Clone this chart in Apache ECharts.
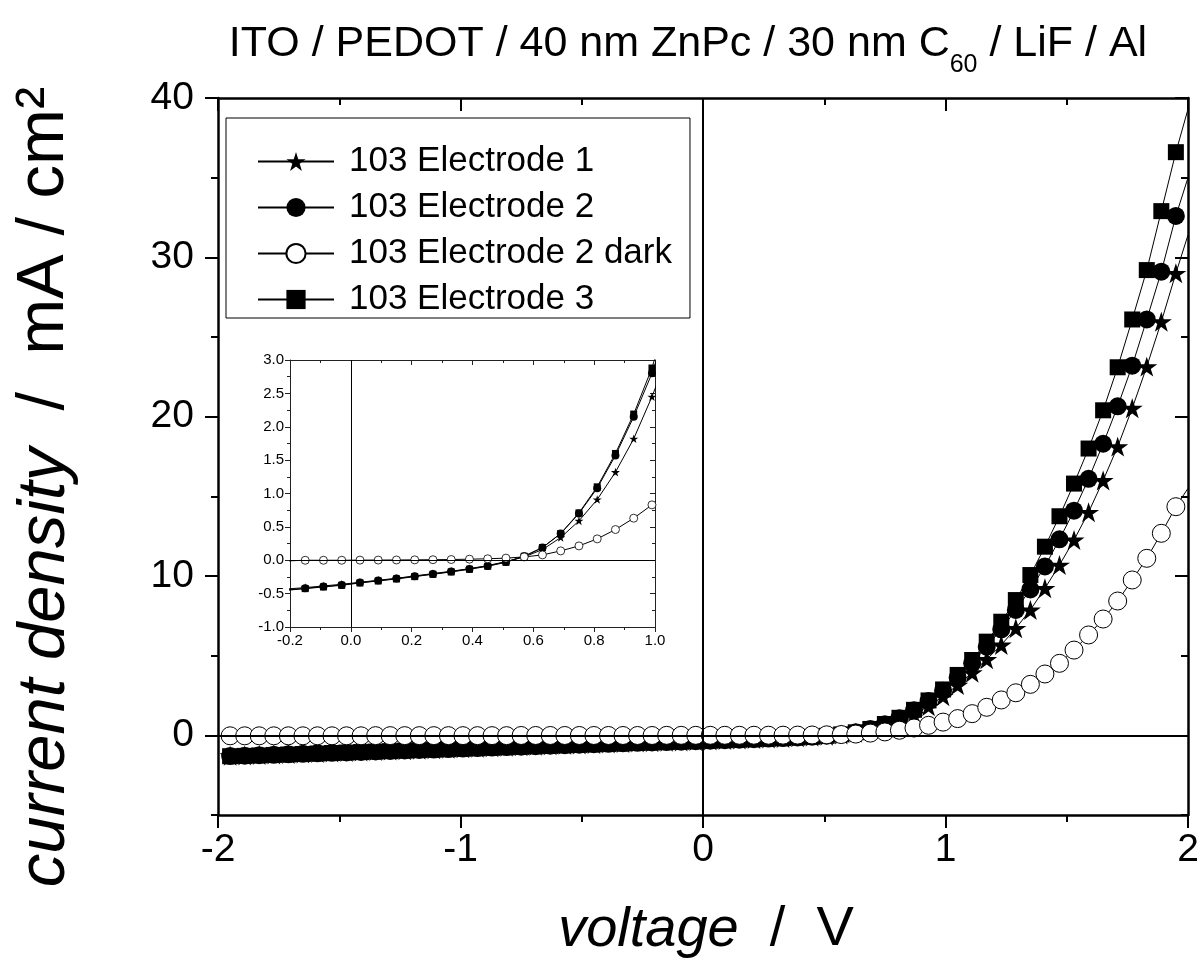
<!DOCTYPE html>
<html>
<head>
<meta charset="utf-8">
<script src="https://cdn.jsdelivr.net/npm/echarts@6/dist/echarts.min.js"></script>
<style>
html,body{margin:0;padding:0;background:#fff;}
#c{width:1203px;height:963px;}
</style>
</head>
<body>
<div id="c"></div>
<script>
// ---------------- data ----------------
const voltage = [-1.95, -1.89, -1.83, -1.77, -1.71, -1.65, -1.59, -1.53, -1.47, -1.41,
  -1.35, -1.29, -1.23, -1.17, -1.11, -1.05, -0.99, -0.93, -0.87, -0.81,
  -0.75, -0.69, -0.63, -0.57, -0.51, -0.45, -0.39, -0.33, -0.27, -0.21,
  -0.15, -0.09, -0.03, 0.03, 0.09, 0.15, 0.21, 0.27, 0.33, 0.39,
  0.45, 0.51, 0.57, 0.63, 0.69, 0.75, 0.81, 0.87, 0.93, 0.99,
  1.05, 1.11, 1.17, 1.23, 1.29, 1.35, 1.41, 1.47, 1.53, 1.59,
  1.65, 1.71, 1.77, 1.83, 1.89, 1.95];

const electrode1 = [-1.28, -1.26, -1.23, -1.20, -1.17, -1.14, -1.11, -1.08, -1.05, -1.02,
  -0.99, -0.96, -0.93, -0.90, -0.87, -0.84, -0.81, -0.78, -0.75, -0.72,
  -0.69, -0.66, -0.63, -0.60, -0.57, -0.54, -0.51, -0.48, -0.455, -0.43,
  -0.41, -0.385, -0.36, -0.33, -0.30, -0.27, -0.235, -0.20, -0.165, -0.125,
  -0.08, -0.02, 0.05, 0.16, 0.34, 0.59, 0.91, 1.32, 1.82, 2.45,
  3.15, 3.93, 4.77, 5.67, 6.72, 7.87, 9.23, 10.69, 12.26, 14.0,
  16.0, 18.12, 20.53, 23.14, 25.96, 29.0];

const electrode2 = [-1.30, -1.28, -1.25, -1.22, -1.19, -1.16, -1.13, -1.10, -1.07, -1.04,
  -1.01, -0.98, -0.95, -0.92, -0.89, -0.86, -0.83, -0.80, -0.77, -0.74,
  -0.71, -0.68, -0.65, -0.62, -0.59, -0.56, -0.53, -0.50, -0.47, -0.445,
  -0.42, -0.395, -0.37, -0.335, -0.305, -0.275, -0.24, -0.205, -0.17, -0.13,
  -0.085, -0.025, 0.06, 0.19, 0.40, 0.70, 1.08, 1.57, 2.15, 2.80,
  3.62, 4.52, 5.56, 6.65, 7.87, 9.16, 10.6, 12.3, 14.1, 16.1,
  18.3, 20.65, 23.2, 26.1, 29.1, 32.6];

const electrode2Dark = [-0.03, -0.03, -0.03, -0.03, -0.03, -0.03, -0.03, -0.03, -0.03, -0.03,
  -0.02, -0.02, -0.02, -0.02, -0.02, -0.02, -0.02, -0.02, -0.02, -0.02,
  -0.01, -0.01, -0.01, -0.01, -0.01, -0.01, -0.01, -0.01, -0.01, -0.01,
  0.0, 0.0, 0.0, 0.002, 0.003, 0.004, 0.006, 0.008, 0.011, 0.016,
  0.022, 0.032, 0.05, 0.08, 0.14, 0.215, 0.32, 0.46, 0.63, 0.83,
  1.05, 1.36, 1.76, 2.22, 2.67, 3.20, 3.85, 4.52, 5.35, 6.30,
  7.30, 8.43, 9.75, 11.11, 12.68, 14.35];

const electrode3 = [-1.31, -1.29, -1.26, -1.23, -1.20, -1.17, -1.14, -1.11, -1.08, -1.05,
  -1.02, -0.99, -0.96, -0.93, -0.90, -0.87, -0.84, -0.81, -0.78, -0.75,
  -0.72, -0.69, -0.66, -0.63, -0.60, -0.57, -0.54, -0.51, -0.48, -0.45,
  -0.425, -0.40, -0.375, -0.34, -0.31, -0.28, -0.245, -0.21, -0.175, -0.135,
  -0.09, -0.03, 0.06, 0.19, 0.40, 0.71, 1.10, 1.60, 2.19, 2.88,
  3.79, 4.73, 5.88, 7.13, 8.49, 10.06, 11.84, 13.75, 15.8, 18.0,
  20.4, 23.1, 26.1, 29.2, 32.9, 36.6];

// line end at the right frame (no marker there)
const endVoltage = 2.0;
const endValues = { e1: 31.4, e2: 35.0, e2d: 15.5, e3: 39.3 };

const seriesNames = ['103 Electrode 1', '103 Electrode 2', '103 Electrode 2 dark', '103 Electrode 3'];

// tick values
const xTicks = [-2, -1, 0, 1, 2];
const xMinor = [-1.5, -0.5, 0.5, 1.5];
const yTicks = [0, 10, 20, 30, 40];
const yMinor = [-5, 5, 15, 25, 35];
const insetXTicks = [-0.2, 0.0, 0.2, 0.4, 0.6, 0.8, 1.0];
const insetXMinor = [-0.1, 0.1, 0.3, 0.5, 0.7, 0.9];
const insetYTicks = [-1.0, -0.5, 0.0, 0.5, 1.0, 1.5, 2.0, 2.5, 3.0];
const insetYMinor = [-0.75, -0.25, 0.25, 0.75, 1.25, 1.75, 2.25, 2.75];

// ---------------- chart ----------------
const FONT = '"Liberation Sans", Arial, Helvetica, sans-serif';
const STAR = 'path://M50,0L61.2,34.5L97.6,34.5L68.2,55.9L79.4,90.5L50,69.1L20.6,90.5L31.8,55.9L2.4,34.5L38.8,34.5Z';

function pairs(ys, endY) {
  const d = voltage.map((v, i) => [v, ys[i]]);
  d.push({ value: [endVoltage, endY], symbol: 'none' });
  return d;
}

function axes(dim, gridIndex, min, max, majors, minors, o) {
  const isX = dim === 'x';
  const posA = isX ? 'bottom' : 'left';
  const posB = isX ? 'top' : 'right';
  const base = { type: 'value', gridIndex, min, max, splitLine: { show: false }, silent: true };
  const lbl = Object.assign({ show: true, color: '#000', fontFamily: FONT, customValues: majors }, o.label);
  return [
    Object.assign({}, base, { position: posA,
      axisLine: { show: true, onZero: false, lineStyle: { color: o.color, width: o.lw } },
      axisTick: { show: true, inside: false, length: o.maj, customValues: majors, lineStyle: { color: o.color, width: o.tw } },
      axisLabel: lbl }),
    Object.assign({}, base, { position: posA,
      axisLine: { show: false, onZero: false },
      axisTick: { show: true, inside: false, length: o.min, customValues: minors, lineStyle: { color: o.color, width: o.tw } },
      axisLabel: { show: false, customValues: minors } }),
    Object.assign({}, base, { position: posB,
      axisLine: { show: true, onZero: false, lineStyle: { color: o.color, width: o.lw } },
      axisTick: { show: true, inside: true, length: o.maj, customValues: majors, lineStyle: { color: o.color, width: o.tw } },
      axisLabel: { show: false, customValues: majors } }),
    Object.assign({}, base, { position: posB,
      axisLine: { show: false, onZero: false },
      axisTick: { show: true, inside: true, length: o.min, customValues: minors, lineStyle: { color: o.color, width: o.tw } },
      axisLabel: { show: false, customValues: minors } })
  ];
}

const mainAxisStyle = { color: '#000', lw: 2.5, tw: 2, maj: 13, min: 7 };
const insetAxisStyle = { color: '#222', lw: 1, tw: 1, maj: 5, min: 3 };

const xAxes = [].concat(
  axes('x', 0, -2, 2, xTicks, xMinor, Object.assign({ label: { fontSize: 39, margin: 16 } }, mainAxisStyle)),
  axes('x', 1, -0.2, 1.0, insetXTicks, insetXMinor, Object.assign({ label: { fontSize: 15, margin: 6, formatter: v => v.toFixed(1) } }, insetAxisStyle))
);
const yAxes = [].concat(
  axes('y', 0, -5, 40, yTicks, yMinor, Object.assign({ label: { fontSize: 39, margin: 24 } }, mainAxisStyle)),
  axes('y', 1, -1, 3, insetYTicks, insetYMinor, Object.assign({ label: { fontSize: 15, margin: 6, formatter: v => v.toFixed(1) } }, insetAxisStyle))
);

const defs = [
  { key: 'e3', name: seriesNames[3], ys: electrode3, symbol: 'rect', size: 16, inset: 7, fill: '#000' },
  { key: 'e2', name: seriesNames[1], ys: electrode2, symbol: 'circle', size: 18, inset: 8, fill: '#000' },
  { key: 'e1', name: seriesNames[0], ys: electrode1, symbol: STAR, size: 21, inset: 9, fill: '#000' },
  { key: 'e2d', name: seriesNames[2], ys: electrode2Dark, symbol: 'circle', size: 18, inset: 8, fill: '#fff' }
];

const zeroLines = (w) => ({
  silent: true, symbol: 'none', animation: false,
  label: { show: false },
  lineStyle: { color: '#000', width: w, type: 'solid' },
  emphasis: { disabled: true },
  data: [{ xAxis: 0 }, { yAxis: 0 }]
});

const series = [];
defs.forEach((d, i) => {
  series.push({
    type: 'line', name: d.name, xAxisIndex: 0, yAxisIndex: 0,
    data: pairs(d.ys, endValues[d.key]),
    symbol: d.symbol, symbolSize: d.size, symbolKeepAspect: true, showAllSymbol: true,
    lineStyle: { color: '#000', width: 1 },
    itemStyle: { color: d.fill, borderColor: '#000', borderWidth: d.fill === '#fff' ? 1 : 0 },
    emphasis: { disabled: true }, animation: false, clip: true,
    markLine: i === 0 ? zeroLines(2) : undefined
  });
});
defs.forEach((d, i) => {
  series.push({
    type: 'line', name: d.name + ' (inset)', xAxisIndex: 4, yAxisIndex: 4,
    data: pairs(d.ys, endValues[d.key]),
    symbol: d.symbol, symbolSize: d.inset, symbolKeepAspect: true, showAllSymbol: true,
    lineStyle: { color: '#000', width: 1 },
    itemStyle: { color: d.fill, borderColor: '#000', borderWidth: d.fill === '#fff' ? 0.8 : 0 },
    emphasis: { disabled: true }, animation: false, clip: true,
    markLine: i === 0 ? zeroLines(1) : undefined
  });
});

const option = {
  animation: false,
  backgroundColor: '#fff',
  textStyle: { fontFamily: FONT, color: '#000' },
  grid: [
    { left: 218, top: 98, width: 970, height: 717 },
    { left: 290, top: 360, width: 365, height: 267 }
  ],
  xAxis: xAxes,
  yAxis: yAxes,
  legend: {
    data: seriesNames,
    orient: 'vertical', left: 226, top: 118,
    padding: [26, 18, 1, 31],
    itemGap: 11, itemWidth: 76, itemHeight: 24,
    borderColor: '#000', borderWidth: 1,
    selectedMode: false,
    textStyle: { fontSize: 35, lineHeight: 35, color: '#000', fontFamily: FONT, padding: [0, 0, 0, 10] }
  },
  graphic: [
    {
      type: 'text', x: 688, y: 44, silent: true,
      style: {
        text: 'ITO / PEDOT / 40 nm ZnPc / 30 nm C{s|60} / LiF / Al',
        fill: '#000', fontSize: 43, fontFamily: FONT,
        align: 'center', verticalAlign: 'middle', textAlign: 'center', textVerticalAlign: 'middle',
        rich: {
          s: { fontSize: 25, fontFamily: FONT, padding: [42, 0, 0, 0], lineHeight: 46 }
        },
        lineHeight: 46
      }
    },
    {
      type: 'text', x: 45, y: 487, rotation: Math.PI / 2, silent: true,
      style: {
        text: '{i|current density}  /  mA / cm²',
        fill: '#000', fontSize: 67, fontFamily: FONT,
        align: 'center', verticalAlign: 'middle', textAlign: 'center', textVerticalAlign: 'middle',
        rich: { i: { fontStyle: 'italic', fontSize: 67, fontFamily: FONT } }
      }
    },
    {
      type: 'text', x: 706, y: 930, silent: true,
      style: {
        text: '{i|voltage}  /  V',
        fill: '#000', fontSize: 56, fontFamily: FONT,
        align: 'center', verticalAlign: 'middle', textAlign: 'center', textVerticalAlign: 'middle',
        rich: { i: { fontStyle: 'italic', fontSize: 56, fontFamily: FONT } }
      }
    }
  ],
  series
};

const chart = echarts.init(document.getElementById('c'), null, { renderer: 'canvas' });
chart.setOption(option);
</script>
</body>
</html>
